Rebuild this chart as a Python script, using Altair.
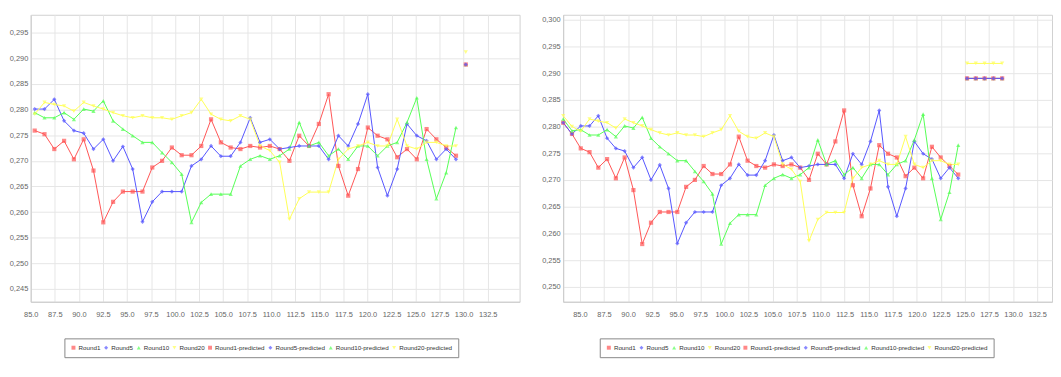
import altair as alt
import pandas as pd

# ---------------- data ----------------
SERIES = ["Round1", "Round5", "Round10", "Round20",
          "Round1-predicted", "Round5-predicted", "Round10-predicted", "Round20-predicted"]
COLORS = ["#ff5555", "#5555ff", "#55ff55", "#ffff55",
          "#ff5555", "#5555ff", "#55ff55", "#ffff55"]
SHAPES = ["square", "diamond", "triangle-up", "triangle-down",
          "square", "diamond", "triangle-up", "triangle-down"]

x_tick_values = [85.0, 87.5, 90.0, 92.5, 95.0, 97.5, 100.0, 102.5, 105.0, 107.5,
                 110.0, 112.5, 115.0, 117.5, 120.0, 122.5, 125.0, 127.5, 130.0, 132.5]

left_y_ticks = [0.245, 0.250, 0.255, 0.260, 0.265, 0.270, 0.275, 0.280, 0.285, 0.290, 0.295]
right_y_ticks = [0.250, 0.255, 0.260, 0.265, 0.270, 0.275, 0.280, 0.285, 0.290, 0.295, 0.300]

round1 = [0.2759, 0.2752, 0.2723, 0.2739, 0.2703, 0.2742, 0.2681, 0.2580, 0.2620, 0.2640,
          0.2640, 0.2640, 0.2687, 0.2700, 0.2726, 0.2711, 0.2711, 0.2729, 0.2781, 0.2736,
          0.2726, 0.2723, 0.2729, 0.2726, 0.2729, 0.2723, 0.2700, 0.2749, 0.2729, 0.2772,
          0.2830, 0.2690, 0.2632, 0.2684, 0.2765, 0.2749, 0.2742, 0.2707, 0.2723, 0.2703,
          0.2762, 0.2742, 0.2726, 0.2710]
round5 = [0.2801, 0.2801, 0.2820, 0.2778, 0.2759, 0.2754, 0.2723, 0.2742, 0.2700, 0.2728,
          0.2684, 0.2581, 0.2620, 0.2640, 0.2640, 0.2640, 0.2690, 0.2703, 0.2729, 0.2709,
          0.2709, 0.2736, 0.2784, 0.2736, 0.2742, 0.2723, 0.2726, 0.2729, 0.2729, 0.2729,
          0.2703, 0.2749, 0.2729, 0.2772, 0.2830, 0.2687, 0.2632, 0.2684, 0.2772, 0.2749,
          0.2739, 0.2703, 0.2723, 0.2703]
round10 = [0.2794, 0.2784, 0.2784, 0.2794, 0.2781, 0.2801, 0.2797, 0.2817, 0.2778, 0.2762,
           0.2749, 0.2736, 0.2736, 0.2716, 0.2697, 0.2674, 0.2580, 0.2619, 0.2635, 0.2635,
           0.2635, 0.2690, 0.2703, 0.2710, 0.2703, 0.2710, 0.2723, 0.2775, 0.2729, 0.2736,
           0.2710, 0.2723, 0.2703, 0.2729, 0.2729, 0.2710, 0.2729, 0.2736, 0.2775, 0.2823,
           0.2703, 0.2626, 0.2677, 0.2765]
round20 = [0.2791, 0.2814, 0.2810, 0.2807, 0.2797, 0.2814, 0.2807, 0.2801, 0.2794, 0.2788,
           0.2784, 0.2788, 0.2784, 0.2784, 0.2781, 0.2788, 0.2794, 0.2820, 0.2791, 0.2781,
           0.2778, 0.2788, 0.2781, 0.2729, 0.2720, 0.2697, 0.2586, 0.2626, 0.2639, 0.2639,
           0.2639, 0.2703, 0.2723, 0.2729, 0.2736, 0.2729, 0.2729, 0.2781, 0.2729, 0.2723,
           0.2736, 0.2736, 0.2729, 0.2729]

# two earlier observations shown only in the right panel
right_lead = {"Round1": [0.2807, 0.2786], "Round5": [0.2807, 0.2786],
              "Round10": [0.2814, 0.2792], "Round20": [0.2820, 0.2800]}

# predictions
left_pred = {"Round10-predicted": [0.2888], "Round20-predicted": [0.2912],
             "Round1-predicted": [0.2888], "Round5-predicted": [0.2888]}
right_pred = {"Round10-predicted": [0.2890] * 5, "Round20-predicted": [0.2918] * 5,
              "Round1-predicted": [0.2890] * 5, "Round5-predicted": [0.2890] * 5}

# x positions (time) of the samples in each panel
left_t = [round(85.41 + 1.0185 * i, 3) for i in range(45)]
right_t = [round(83.26 + 0.912 * j, 3) for j in range(51)]

actual = {"Round1": round1, "Round5": round5, "Round10": round10, "Round20": round20}


def build_left():
    rows = []
    for s, vals in actual.items():
        for i, v in enumerate(vals):
            rows.append({"t": left_t[i], "value": v, "series": s})
    n = len(round1)
    for s, vals in left_pred.items():
        for k, v in enumerate(vals):
            rows.append({"t": left_t[n + k], "value": v, "series": s})
    return pd.DataFrame(rows)


def build_right():
    rows = []
    for s, vals in actual.items():
        full = right_lead[s] + vals
        for j, v in enumerate(full):
            rows.append({"t": right_t[j], "value": v, "series": s})
    n = len(round1) + 2
    for s, vals in right_pred.items():
        for k, v in enumerate(vals):
            rows.append({"t": right_t[n + k], "value": v, "series": s})
    return pd.DataFrame(rows)


FONT = "Liberation Sans"


def panel(df, t_domain, y_domain, y_ticks, legend_x):
    x = alt.X("t:Q", scale=alt.Scale(domain=t_domain, nice=False, zero=False),
              axis=alt.Axis(values=x_tick_values, format=".1f", title=None,
                            labelFlush=False, labelOverlap=False, ticks=False,
                            labelPadding=9, labelFontSize=7.5, labelColor="#666",
                            labelFont=FONT, domainColor="#cccccc",
                            gridColor="#e6e6e6"))
    y = alt.Y("value:Q", scale=alt.Scale(domain=y_domain, nice=False, zero=False),
              axis=alt.Axis(values=y_ticks, title=None, ticks=False,
                            labelExpr="replace(format(datum.value, '.3f'), '.', ',')",
                            labelFontSize=7.5, labelColor="#666", labelFont=FONT,
                            labelPadding=3, minExtent=20, maxExtent=20,
                            domainColor="#cccccc", gridColor="#e6e6e6"))
    leg = alt.Legend(orient="none", legendX=legend_x, legendY=327,
                     direction="horizontal", columns=8,
                     strokeColor="#888888", padding=6,
                     symbolSize=16, labelFontSize=6.3, labelFont=FONT,
                     labelColor="#333", columnPadding=2, labelOffset=2)
    col = alt.Color("series:N", title=None,
                    scale=alt.Scale(domain=SERIES, range=COLORS), legend=leg)
    shp = alt.Shape("series:N", title=None,
                    scale=alt.Scale(domain=SERIES, range=SHAPES), legend=leg)
    lines = alt.Chart(df).mark_line(strokeWidth=1).encode(
        x=x, y=y,
        stroke=alt.Stroke("series:N", scale=alt.Scale(domain=SERIES, range=COLORS),
                          legend=None),
        detail="series:N")
    pts = alt.Chart(df).mark_point(filled=True, size=18).encode(
        x=x, y=y, color=col, shape=shp)
    return alt.layer(lines, pts).properties(width=494, height=290)


left = panel(build_left(), [85.0, 135.82], [0.2425, 0.2985], left_y_ticks, 34)
right = panel(build_right(), [83.256, 134.04], [0.2472, 0.3009], right_y_ticks, 37)

chart = alt.hconcat(left, right, spacing=20).resolve_scale(
    color="independent", shape="independent"
).resolve_legend(color="independent", shape="independent").properties(
    padding={"left": 0, "top": 4, "right": 0, "bottom": 0}
).configure_view(stroke="#d0d0d0")

chart.save("out.html", embed_options={"renderer": "svg", "actions": False})
